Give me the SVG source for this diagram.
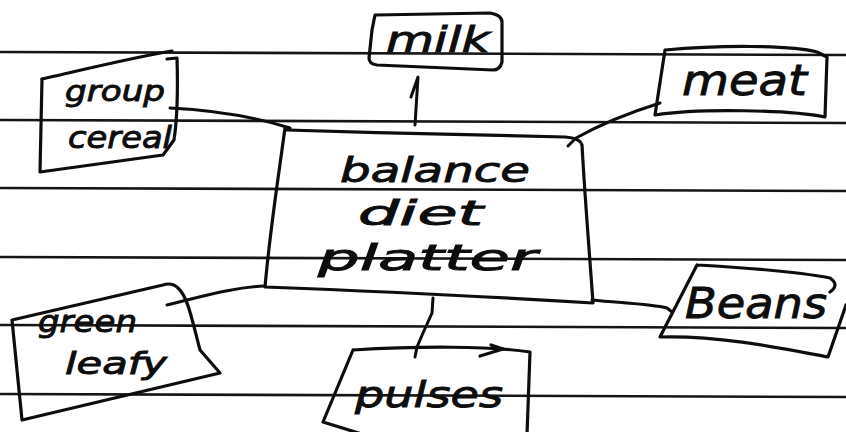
<svg xmlns="http://www.w3.org/2000/svg" width="846" height="432" viewBox="0 0 846 432">
<style>
.rule{stroke:#151515;stroke-width:2.6;fill:none}
.bx{stroke:#0d0d0d;stroke-width:3.2;fill:none;stroke-linejoin:round;stroke-linecap:round}
.cn{stroke:#0d0d0d;stroke-width:3;fill:none;stroke-linejoin:round;stroke-linecap:round}
.t{font-family:"DejaVu Sans","Noto Sans",sans-serif;font-style:italic;fill:#0d0d0d;stroke:#0d0d0d;stroke-width:0.9}
</style>
<rect width="846" height="432" fill="#ffffff"/>
<g id="ruled-lines">
<path class="rule" d="M0,52 L846,55"/>
<path class="rule" d="M0,120 L846,123"/>
<path class="rule" d="M0,188 L846,191"/>
<path class="rule" d="M0,257 L846,260"/>
<path class="rule" d="M0,325 L846,328"/>
<path class="rule" d="M0,394 L846,397"/>
</g>
<g id="connectors">
<path class="cn" d="M170,108 C210,110 255,117 290,128"/>
<path class="cn" d="M415,125 L418,77 L411,97"/>
<path class="cn" d="M660,103 Q612,118 576,138 L568,146"/>
<path class="cn" d="M167,305 L187,300 C215,293 240,287 265,286"/>
<path class="cn" d="M433,298 L432,313 L423,333 L417,347 L415,357"/>
<path class="cn" d="M592,300 C620,303 650,304 667,308 L672,312"/>
</g>
<g id="center">
<path class="bx" d="M287,130 C380,133 480,135 565,137 Q580,138 582,145 C585,200 590,260 593,303 C480,296 370,291 265,287 C270,230 278,180 285,128"/>
<text class="t" x="340" y="182" font-size="34" textLength="190" lengthAdjust="spacingAndGlyphs">balance</text>
<text class="t" x="358" y="225" font-size="34" textLength="125" lengthAdjust="spacingAndGlyphs">diet</text>
<text class="t" x="318" y="270" font-size="36" textLength="219" lengthAdjust="spacingAndGlyphs">platter</text>
</g>
<g id="group-cereal">
<path class="bx" d="M42,79 C90,68 140,56 172,51"/>
<path class="bx" d="M167,59 L177,58 C178,90 177,120 174,140 L163,155 L40,172 L42,79"/>
<text class="t" x="65" y="101" font-size="28" textLength="100" lengthAdjust="spacingAndGlyphs">group</text>
<text class="t" x="68" y="148" font-size="30" textLength="104" lengthAdjust="spacingAndGlyphs">cereal</text>
</g>
<g id="milk">
<path class="bx" d="M375,15 L490,13 Q502,15 502,22 L502,62 Q500,70 493,70 L377,65 Q369,64 369,58 L372,30 Z"/>
<text class="t" x="386" y="52" font-size="36" textLength="104" lengthAdjust="spacingAndGlyphs">milk</text>
</g>
<g id="meat">
<path class="bx" d="M665,50 C720,45 790,45 817,52 L827,57 L825,117 C790,110 700,108 655,115 L665,50"/>
<text class="t" x="682" y="95" font-size="42" textLength="125" lengthAdjust="spacingAndGlyphs">meat</text>
</g>
<g id="green-leafy">
<path class="bx" d="M12,320 L163,285 Q172,282 178,288 C188,297 192,320 200,350 L220,373 L22,420 L12,320"/>
<text class="t" x="38" y="332" font-size="30" textLength="99" lengthAdjust="spacingAndGlyphs">green</text>
<text class="t" x="65" y="374" font-size="30" textLength="102" lengthAdjust="spacingAndGlyphs">leafy</text>
</g>
<g id="pulses">
<path class="bx" d="M353,350 C420,346 490,346 530,352 L527,435 M353,350 L323,422 L365,435"/>
<path class="bx" d="M480,356 L503,349 M491,345 L503,349"/>
<text class="t" x="355" y="407" font-size="36" textLength="148" lengthAdjust="spacingAndGlyphs">pulses</text>
</g>
<g id="beans">
<path class="bx" d="M697,265 C750,268 800,272 830,278 Q840,285 830,292 M846,305 L828,357 C790,350 720,335 660,337 L697,265"/>
<text class="t" x="685" y="318" font-size="42" textLength="142" lengthAdjust="spacingAndGlyphs">Beans</text>
</g>
</svg>
